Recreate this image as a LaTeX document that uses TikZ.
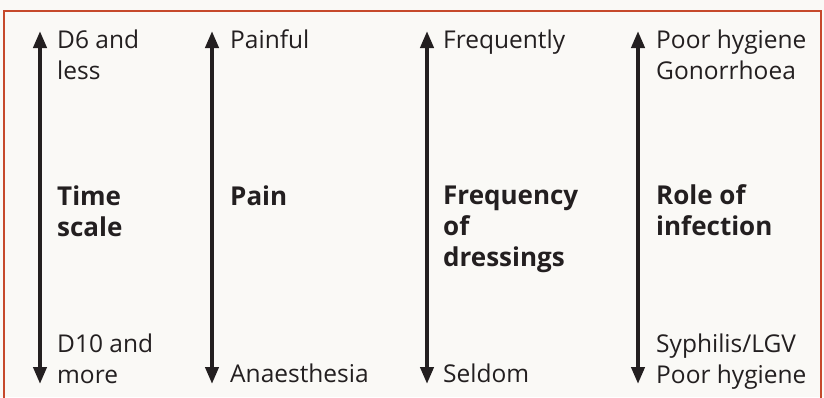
\documentclass[tikz,border=0pt]{standalone}
\usepackage{fontspec}
\setmainfont{Open Sans}
\usetikzlibrary{arrows.meta}
\definecolor{frame}{HTML}{C6492B}
\definecolor{paper}{HTML}{FAF9F6}
\definecolor{ink}{HTML}{231F20}
\tikzset{
  scalearrow/.style={line width=4pt, draw=ink, {Triangle[length=17pt,width=13pt]}-{Triangle[length=17pt,width=13pt]}},
  plain/.style={anchor=base west, inner sep=0pt, text=ink, font=\fontsize{24.5}{31.5}\selectfont},
  heading/.style={plain, font=\fontsize{26}{31}\selectfont\bfseries},
}
\begin{document}
\begin{tikzpicture}[x=1pt,y=-1pt]
\useasboundingbox (0,0) rectangle (824,397);
\fill[paper] (0,0) rectangle (824,397);
\begin{scope}
\clip (0,0) rectangle (824,397);
\draw[frame, line width=2.5pt] (4,11) rectangle (821,420);
\end{scope}
% arrows
\foreach \n/\x in {1/40,2/212,3/427,4/638}{
  \coordinate (t\n) at (\x,31);
  \coordinate (b\n) at (\x,384);
}
\foreach \n in {1,2,3,4}{\draw[scalearrow] (t\n) -- (b\n);}
% top labels
\node[plain] (top1) at (57,48) {\vtop{\hbox{D6 and}\hbox{less}}};
\node[plain] (top2) at (230,48) {Painful};
\node[plain] (top3) at (443,48) {Frequently};
\node[plain] (top4) at (656,48) {\vtop{\hbox{Poor hygiene}\hbox{Gonorrhoea}}};
% headings
\node[heading] (h1) at (57,205) {\vtop{\hbox{Time}\hbox{scale}}};
\node[heading] (h2) at (230,205) {Pain};
\node[heading] (h3) at (443,204) {\vtop{\hbox{Frequency}\hbox{of}\hbox{dressings}}};
\node[heading] (h4) at (656,204) {\vtop{\hbox{Role of}\hbox{infection}}};
% bottom labels
\node[plain] (bot1) at (57,352) {\vtop{\hbox{D10 and}\hbox{more}}};
\node[plain] (bot2) at (230,382) {Anaesthesia};
\node[plain] (bot3) at (443,382) {Seldom};
\node[plain] (bot4) at (656,352) {\vtop{\hbox{Syphilis/LGV}\hbox{Poor hygiene}}};
\end{tikzpicture}
\end{document}
